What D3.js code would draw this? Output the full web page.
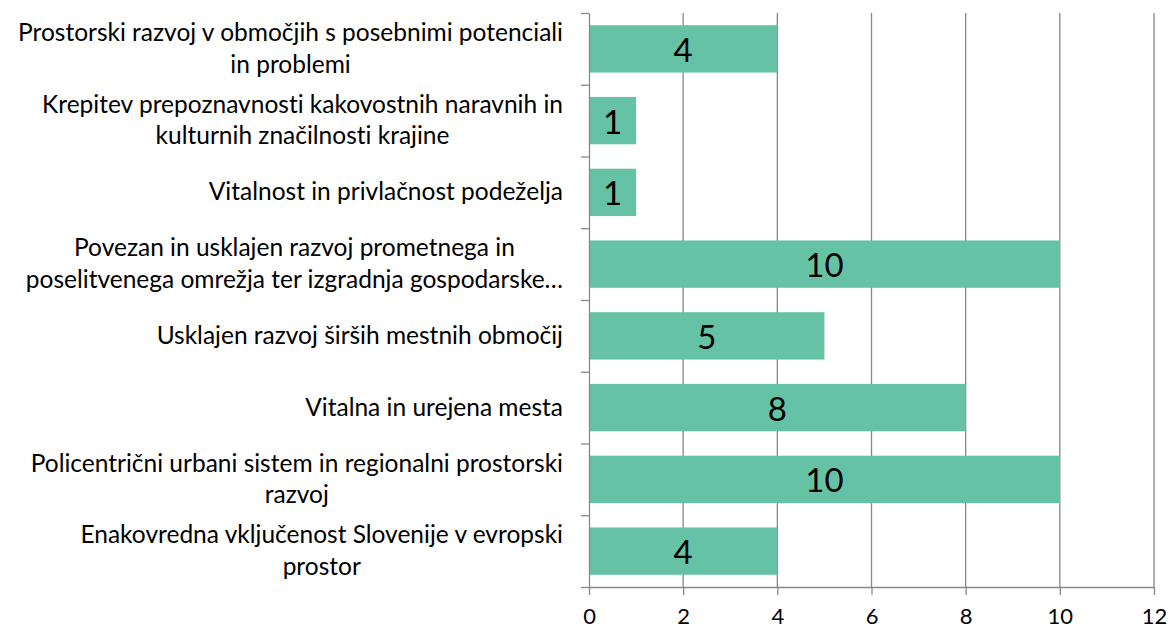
<!DOCTYPE html>
<html>
<head>
<meta charset="utf-8">
<script src="https://cdn.jsdelivr.net/npm/d3@7"></script>
<style>
	body { margin: 0; background: #fff; }
	text { font-family: Lato, "Open Sans", sans-serif; fill: #000; font-variant-ligatures: none; }
	.axis path, .axis line { stroke: #888; stroke-width: 1.3px; }
	.grid line { stroke: #888; stroke-width: 1.3px; }
</style>
</head>
<body>
<div id="chart"></div>
<script>
// categories top to bottom, each label split into its display lines
const categories = [
	['Prostorski razvoj v območjih s posebnimi potenciali', 'in problemi'],
	['Krepitev prepoznavnosti kakovostnih naravnih in', 'kulturnih značilnosti krajine'],
	['Vitalnost in privlačnost podeželja'],
	['Povezan in usklajen razvoj prometnega in', 'poselitvenega omrežja ter izgradnja gospodarske…'],
	['Usklajen razvoj širših mestnih območij'],
	['Vitalna in urejena mesta'],
	['Policentrični urbani sistem in regionalni prostorski', 'razvoj'],
	['Enakovredna vključenost Slovenije v evropski', 'prostor'],
];
const values = [4, 1, 1, 10, 5, 8, 10, 4];
const xTickValues = [0, 2, 4, 6, 8, 10, 12];

const containerWidth = 1170;
const containerHeight = 630;
const margin = { top: 13, right: 15, bottom: 43, left: 589 };
const width = 1154 - margin.left;
const height = containerHeight - margin.top - margin.bottom;

const svg = d3.select('#chart').append('svg')
	.attr('width', containerWidth)
	.attr('height', containerHeight);

const chart = svg.append('g')
	.attr('transform', `translate(${margin.left}, ${margin.top})`);

// scales
const xScale = d3.scaleLinear().domain([0, 12]).range([0, width]);
const yScale = d3.scaleBand()
	.domain(d3.range(categories.length))
	.range([0, height])
	.paddingInner(0.34)
	.paddingOuter(0.17);
const yEdge = d3.scaleLinear().domain([0, categories.length]).range([0, height]);

// vertical gridlines
chart.append('g').attr('class', 'grid')
	.selectAll('line')
	.data(xTickValues.slice(1))
	.join('line')
	.attr('x1', d => xScale(d)).attr('x2', d => xScale(d))
	.attr('y1', 0).attr('y2', height);

// bars
chart.selectAll('.bar')
	.data(values)
	.join('rect')
	.attr('class', 'bar')
	.attr('x', 0)
	.attr('y', (d, i) => yScale(i))
	.attr('width', d => xScale(d))
	.attr('height', yScale.bandwidth())
	.attr('fill', '#66c2a5');

// value labels (alphabetic baseline, digits centred on the bar)
chart.selectAll('.value-label')
	.data(values)
	.join('text')
	.attr('class', 'value-label')
	.attr('text-anchor', 'middle')
	.attr('x', d => xScale(d) / 2)
	.attr('y', (d, i) => yScale(i) + yScale.bandwidth() / 2 + 13)
	.style('font-size', '33px')
	.text(d => d);

// x axis
const xAxisG = chart.append('g').attr('class', 'axis x-axis')
	.attr('transform', `translate(0, ${height})`)
	.call(d3.axisBottom(xScale).tickValues(xTickValues).tickSize(8).tickSizeOuter(0));
xAxisG.selectAll('text').style('font-size', '22px').attr('dy', null).attr('y', 37);

// y axis, ticks at category boundaries
chart.append('g').attr('class', 'axis y-axis')
	.call(d3.axisLeft(yEdge).tickValues(d3.range(categories.length + 1)).tickFormat('').tickSize(8).tickSizeOuter(0));

// category labels: block right-aligned, lines centred inside the block
const labelRight = 563 - margin.left;
const lineHeight = 31.5;
categories.forEach((lines, i) => {
	const g = chart.append('g').attr('class', 'cat-label');
	const texts = lines.map(l => g.append('text')
		.attr('text-anchor', 'middle')
		.style('font-size', '24.5px')
		.text(l));
	const w = d3.max(texts, t => t.node().getComputedTextLength());
	let cx = labelRight - w / 2;
	if (cx - w / 2 < 7 - margin.left) cx = 7 - margin.left + w / 2;
	const cy = yScale(i) + yScale.bandwidth() / 2;
	texts.forEach((t, j) => {
		t.attr('x', cx).attr('y', cy + (j - (lines.length - 1) / 2) * lineHeight + 8);
	});
});
</script>
</body>
</html>
